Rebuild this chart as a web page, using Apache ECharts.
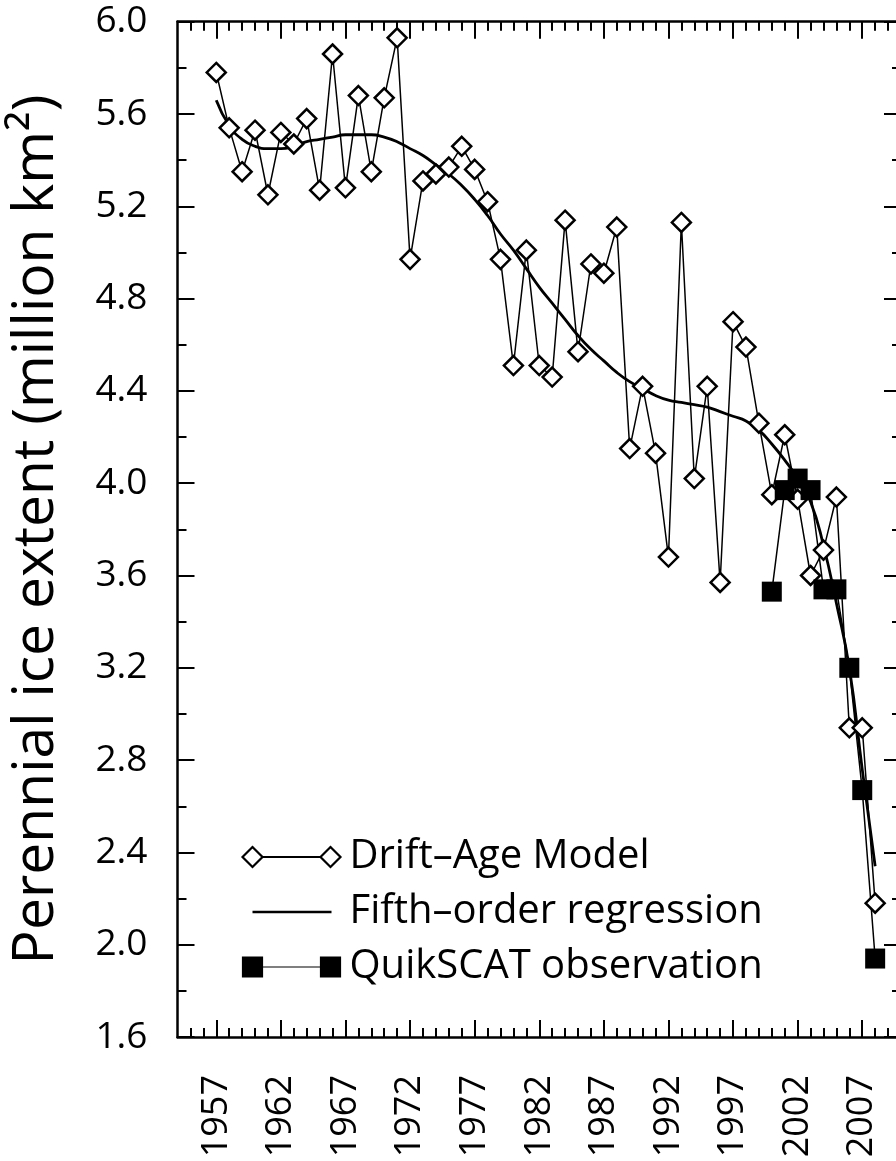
<!DOCTYPE html>
<html>
<head>
<meta charset="utf-8">
<script src="https://cdn.jsdelivr.net/npm/echarts@6/dist/echarts.min.js"></script>
<style>
  html, body { margin: 0; padding: 0; background: #fff; }
  #chart { width: 896px; height: 1161px; }
</style>
</head>
<body>
<div id="chart"></div>
<script>
// drift-age model, one value per year
const driftYears = [1957, 1958, 1959, 1960, 1961, 1962, 1963, 1964, 1965, 1966,
  1967, 1968, 1969, 1970, 1971, 1972, 1973, 1974, 1975, 1976,
  1977, 1978, 1979, 1980, 1981, 1982, 1983, 1984, 1985, 1986,
  1987, 1988, 1989, 1990, 1991, 1992, 1993, 1994, 1995, 1996,
  1997, 1998, 1999, 2000, 2001, 2002, 2003, 2004, 2005, 2006,
  2007, 2008];
const driftValues = [5.78, 5.54, 5.35, 5.53, 5.25, 5.52, 5.47, 5.58, 5.27, 5.86,
  5.28, 5.68, 5.35, 5.67, 5.93, 4.97, 5.31, 5.34, 5.37, 5.46,
  5.36, 5.22, 4.97, 4.51, 5.01, 4.51, 4.46, 5.14, 4.57, 4.95,
  4.91, 5.11, 4.15, 4.42, 4.13, 3.68, 5.13, 4.02, 4.42, 3.57,
  4.70, 4.59, 4.26, 3.95, 4.21, 3.93, 3.60, 3.71, 3.94, 2.94,
  2.94, 2.18];
// fifth-order regression curve per year
const fitValues = [5.66, 5.55, 5.49, 5.46, 5.45, 5.45, 5.46, 5.48, 5.49, 5.50,
  5.51, 5.51, 5.51, 5.50, 5.48, 5.45, 5.42, 5.38, 5.34, 5.29,
  5.23, 5.16, 5.08, 5.01, 4.93, 4.85, 4.78, 4.71, 4.64, 4.58,
  4.53, 4.48, 4.44, 4.41, 4.38, 4.36, 4.35, 4.34, 4.33, 4.31,
  4.29, 4.27, 4.23, 4.17, 4.10, 4.02, 3.92, 3.73, 3.48, 3.20,
  2.76, 2.34];
// QuikSCAT
const scatYears = [2000, 2001, 2002, 2003, 2004, 2005, 2006, 2007, 2008];
const scatValues = [3.53, 3.97, 4.02, 3.97, 3.54, 3.54, 3.20, 2.67, 1.94];

const xMajorTicks = [1957, 1962, 1967, 1972, 1977, 1982, 1987, 1992, 1997, 2002, 2007];
const xMinorTicks = [];
for (let y = 1955; y <= 2009; y++) xMinorTicks.push(y);

const font = 'Open Sans';

const chart = echarts.init(document.getElementById('chart'));

const axisLine = { show: true, lineStyle: { color: '#000', width: 2.5 } };

function xAxisOf(position, ticks, len, withLabels, lineShow) {
  return {
    type: 'value',
    position: position,
    min: 1954,
    max: 2010,
    axisLine: lineShow ? axisLine : { show: false },
    axisTick: {
      inside: true,
      length: len,
      customValues: ticks,
      lineStyle: { color: '#000', width: 2 }
    },
    axisLabel: withLabels ? {
      customValues: ticks,
      rotate: 90,
      margin: 38,
      color: '#000',
      fontFamily: font,
      fontSize: 36,
      formatter: v => String(v)
    } : { show: false },
    splitLine: { show: false }
  };
}

function yAxisOf(position, withLabels) {
  const ax = {
    type: 'value',
    position: position,
    min: 1.6,
    max: 6.0,
    interval: 0.4,
    axisLine: axisLine,
    axisTick: { inside: true, length: 17, lineStyle: { color: '#000', width: 2 } },
    minorTick: { show: true, splitNumber: 2, length: 9, lineStyle: { color: '#000', width: 2 } },
    axisLabel: withLabels ? {
      margin: 30,
      color: '#000',
      fontFamily: font,
      fontSize: 37,
      formatter: v => v.toFixed(1)
    } : { show: false },
    splitLine: { show: false },
    minorSplitLine: { show: false }
  };
  if (withLabels) {
    ax.name = 'Perennial ice extent (million km\u00B2)';
    ax.nameLocation = 'middle';
    ax.nameGap = 112;
    ax.nameTextStyle = { color: '#000', fontFamily: font, fontSize: 57 };
  }
  return ax;
}

const option = {
  animation: false,
  backgroundColor: '#fff',
  grid: {
    left: 177.5,
    top: 21.7,
    right: -5,
    bottom: 124,
    containLabel: false,
    outerBoundsMode: 'none'
  },
  legend: {
    orient: 'vertical',
    left: 233,
    top: 832,
    itemWidth: 104,
    itemHeight: 22,
    itemGap: 15,
    textStyle: { color: '#000', fontFamily: font, fontSize: 40, lineHeight: 40 },
    data: [
      {
        name: 'Drift\u2013Age Model',
        icon: 'path://M0,0 M2,11 L12,1 L22,11 L12,21 Z M22,11 L80,11 M80,11 L90,1 L100,11 L90,21 Z M104,22',
        itemStyle: { color: '#fff', borderColor: '#000', borderWidth: 2.2 }
      },
      {
        name: 'Fifth\u2013order regression',
        icon: 'path://M0,0 M12,11 L91,11 M104,22',
        itemStyle: { color: 'none', borderColor: '#000', borderWidth: 2.5 }
      },
      {
        name: 'QuikSCAT observation',
        icon: 'path://M0,0 M2,1 L22,1 L22,21 L2,21 Z M22,11 L80,11 M80,1 L100,1 L100,21 L80,21 Z M104,22',
        itemStyle: { color: '#000', borderColor: '#000', borderWidth: 1.2 }
      }
    ]
  },
  xAxis: [
    xAxisOf('bottom', xMajorTicks, 17, true, true),
    xAxisOf('bottom', xMinorTicks, 9, false, false),
    xAxisOf('top', xMajorTicks, 17, false, true),
    xAxisOf('top', xMinorTicks, 9, false, false)
  ],
  yAxis: [
    yAxisOf('left', true),
    yAxisOf('right', false)
  ],
  series: [
    {
      name: 'Drift\u2013Age Model',
      type: 'line',
      data: driftYears.map((y, i) => [y, driftValues[i]]),
      symbol: 'diamond',
      symbolSize: 19,
      itemStyle: { color: '#fff', borderColor: '#000', borderWidth: 2.5 },
      lineStyle: { color: '#000', width: 1.5 }
    },
    {
      name: 'Fifth\u2013order regression',
      type: 'line',
      data: driftYears.map((y, i) => [y, fitValues[i]]),
      smooth: true,
      showSymbol: false,
      lineStyle: { color: '#000', width: 2.8 }
    },
    {
      name: 'QuikSCAT observation',
      type: 'line',
      data: scatYears.map((y, i) => [y, scatValues[i]]),
      symbol: 'rect',
      symbolSize: 20,
      itemStyle: { color: '#000', borderColor: '#000', borderWidth: 0 },
      lineStyle: { color: '#000', width: 1.5 }
    }
  ]
};

chart.setOption(option);
</script>
</body>
</html>
